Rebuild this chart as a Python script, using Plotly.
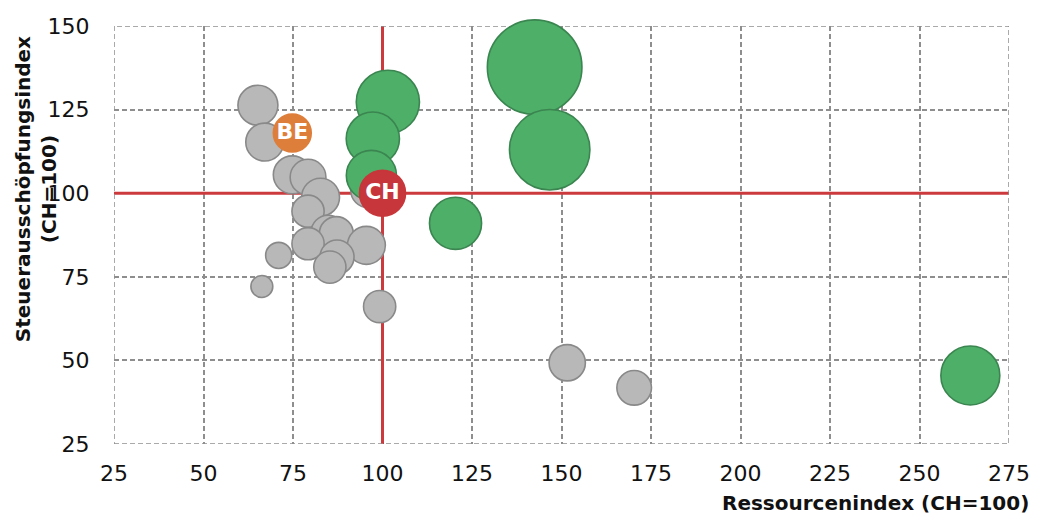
import plotly.graph_objects as go

# Grey cantons
grey_x = [65.2, 67.1, 74.8, 79.2, 82.7, 79.2, 84.8, 87.1, 79.2, 95.5, 87.3, 85.3, 71.0, 66.3, 99.2, 95.9, 151.6, 170.3]
grey_y = [126.3, 115.3, 105.5, 104.8, 98.8, 94.6, 88.3, 87.9, 84.9, 84.4, 80.9, 77.9, 81.4, 72.1, 66.1, 100.8, 49.3, 41.8]
grey_w = [40, 36, 36, 32, 36, 26, 29, 29, 26, 36, 29, 26, 17, 12, 26, 29, 33, 30]

# Green cantons
green_x = [101.5, 97.3, 96.9, 120.4, 142.5, 146.7, 264.2]
green_y = [127.3, 116.3, 105.3, 91.0, 137.7, 113.0, 45.5]
green_w = [100, 71, 63, 68, 224, 162, 87]

# Highlighted
be_x, be_y, be_w = [74.8], [118.0], [36]
ch_x, ch_y, ch_w = [100.0], [100.0], [53]

x_ticks = [25, 50, 75, 100, 125, 150, 175, 200, 225, 250, 275]
y_ticks = [25, 50, 75, 100, 125, 150]

max_w = max(grey_w + green_w + be_w + ch_w)
sizeref = 2.0 * max_w / (94.6 ** 2)

FONT = "DejaVu Sans, Arial, sans-serif"

fig = go.Figure()

def add(x, y, w, fill, line, text=None):
    fig.add_trace(go.Scatter(
        x=x, y=y, mode="markers+text" if text else "markers",
        text=[f"<b>{t}</b>" for t in text] if text else None,
        textposition="middle center",
        textfont=dict(family=FONT, size=22, color="white"),
        marker=dict(size=w, sizemode="area", sizeref=sizeref, color=fill,
                    line=dict(color=line, width=1.6), opacity=1),
        showlegend=False, hoverinfo="skip", cliponaxis=False))

add(grey_x, grey_y, grey_w, "#B8B8B8", "#898989")
add(green_x, green_y, green_w, "#4EAF68", "#3A8550")
add(be_x, be_y, be_w, "#DE7E3B", "#DE7E3B", ["BE"])
add(ch_x, ch_y, ch_w, "#C7363A", "#C7363A", ["CH"])

# Reference lines at CH = 100
fig.add_shape(type="line", x0=100, x1=100, y0=25, y1=150, xref="x", yref="y",
              line=dict(color="#CC3A3E", width=3), layer="between")
fig.add_shape(type="line", x0=25, x1=275, y0=100, y1=100, xref="x", yref="y",
              line=dict(color="#CC3A3E", width=3), layer="between")
# dashed frame
fig.add_shape(type="rect", x0=25, x1=275, y0=25, y1=150, xref="x", yref="y",
              line=dict(color="#8E8E8E", width=1.5, dash="5px,3px"), layer="between")

fig.update_xaxes(range=[25, 275], tickvals=x_ticks, showgrid=True, gridcolor="#8E8E8E",
                 griddash="5px,3px", gridwidth=1.5, zeroline=False, showline=False,
                 automargin=False,
                 ticks="outside", ticklen=0, ticklabelstandoff=10,
                 tickfont=dict(family=FONT, size=22, color="#111111"))
fig.update_yaxes(range=[25, 150], tickvals=y_ticks, showgrid=True, gridcolor="#8E8E8E",
                 griddash="5px,3px", gridwidth=1.5, zeroline=False, showline=False,
                 automargin=False,
                 ticks="outside", ticklen=0, ticklabelstandoff=19,
                 tickfont=dict(family=FONT, size=22, color="#111111"))

fig.add_annotation(text="<b>Ressourcenindex (CH=100)</b>", xref="paper", yref="paper",
                   x=1.025, y=-0.14, xanchor="right", yanchor="middle", showarrow=False,
                   font=dict(family=FONT, size=20, color="#111111"))
fig.add_annotation(text="<b>Steuerausschöpfungsindex<br>(CH=100)</b>", xref="paper", yref="paper",
                   x=-0.087, y=0.61, xanchor="center", yanchor="middle", textangle=-90,
                   showarrow=False,
                   font=dict(family=FONT, size=20, color="#111111"))

# page has an 8px body margin: figure is sized so it fits the 1038x519 window
fig.update_layout(width=1030, height=511, plot_bgcolor="white", paper_bgcolor="white",
                  margin=dict(l=106, r=29, t=18, b=75, autoexpand=False))

fig.write_html("out.html")
